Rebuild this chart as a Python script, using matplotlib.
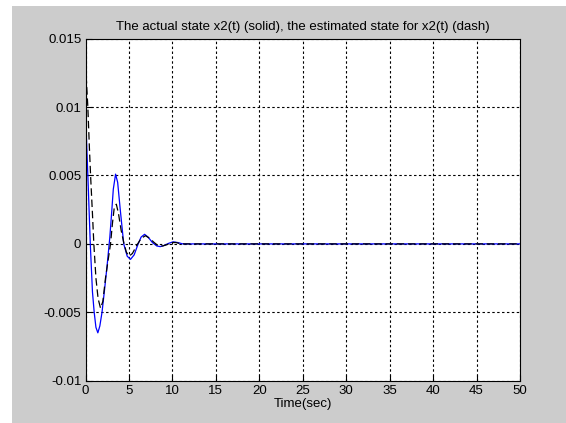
import numpy as np
import matplotlib
matplotlib.use('Agg')
import matplotlib.pyplot as plt
from matplotlib.patches import Rectangle

# Actual state x2(t) (solid blue)
t_actual = [0, 0.1, 0.3, 0.55, 0.8, 1.0, 1.2, 1.42, 1.65, 1.9, 2.2, 2.5, 2.8, 3.0,
            3.2, 3.46, 3.7, 4.0, 4.4, 4.8, 5.18, 5.6, 6.0, 6.4, 6.8, 7.2, 7.7, 8.2,
            8.6, 9.1, 9.6, 10.1, 10.6, 11.2, 12, 50]
x2_actual = [0.0076, 0.0079, 0.0045, 0.0, -0.0035, -0.005, -0.0061, -0.0065, -0.0060,
             -0.0050, -0.0033, -0.0015, 0.0005, 0.0022, 0.0040, 0.0051, 0.0045, 0.0025,
             0.0, -0.0009, -0.00113, -0.0008, -0.0001, 0.0005, 0.0007, 0.0005, 0.0001,
             -0.00015, -0.0002, -0.0001, 0.00005, 0.00015, 0.0001, 0.0, 0.0, 0.0]

# Estimated state for x2(t) (dashed black)
t_est = [0, 0.1, 0.27, 0.45, 0.6, 0.8, 0.96, 1.2, 1.45, 1.73, 2.0, 2.3, 2.6, 2.88,
         3.1, 3.3, 3.55, 3.8, 4.1, 4.4, 4.7, 5.0, 5.4, 5.9, 6.4, 6.9, 7.4, 7.9, 8.4,
         8.9, 9.4, 9.9, 10.4, 11.0, 12, 50]
x2_est = [0.0131, 0.012, 0.0100, 0.0070, 0.0048, 0.0022, 0.0, -0.0025, -0.0040,
          -0.0047, -0.0042, -0.0025, -0.0012, 0.0, 0.0015, 0.0026, 0.0029, 0.0022,
          0.0010, 0.0001, -0.0006, -0.0009, -0.0007, -0.0001, 0.0004, 0.0006, 0.0004,
          0.0001, -0.00015, -0.00015, -0.00005, 0.0001, 0.0001, 0.0, 0.0, 0.0]

x_ticks = np.arange(0, 51, 5)
y_ticks = [-0.01, -0.005, 0, 0.005, 0.01, 0.015]
y_ticklabels = ['-0.01', '-0.005', '0', '0.005', '0.01', '0.015']

plt.rcParams['font.family'] = ['Liberation Sans', 'DejaVu Sans']
plt.rcParams['font.size'] = 9.5

fig = plt.figure(figsize=(5.66, 4.23), dpi=100, facecolor='white')
# matlab grey window, with a thin white strip on the top and left
fig.patches.append(Rectangle((12 / 566, 0), 1, 1 - 6 / 423, transform=fig.transFigure,
                             facecolor='#cccccc', edgecolor='none', zorder=-10))

ax = fig.add_axes([85.5 / 566, 42.3 / 423, (520 - 85.5) / 566, (380.7 - 38.7) / 423])
ax.set_facecolor('white')

ax.plot(t_actual, x2_actual, color='#0000ff', linewidth=0.9)
ax.plot(t_est, x2_est, color='black', linewidth=0.9, dashes=(6, 3))

ax.set_xlim(0, 50)
ax.set_ylim(-0.01, 0.015)
ax.set_xticks(x_ticks)
ax.set_yticks(y_ticks)
ax.set_yticklabels(y_ticklabels)
ax.tick_params(direction='in', length=4, width=0.8, colors='black', pad=3)
ax.grid(True, color='black', linestyle=(0, (2.2, 2.2)), linewidth=0.8)
for sp in ax.spines.values():
    sp.set_linewidth(0.8)

ax.set_title('The actual state x2(t) (solid), the estimated state for x2(t) (dash)',
             fontsize=9.5, pad=6)
ax.set_xlabel('Time(sec)', labelpad=1)

fig.savefig('out.png', dpi=100, facecolor=fig.get_facecolor())
